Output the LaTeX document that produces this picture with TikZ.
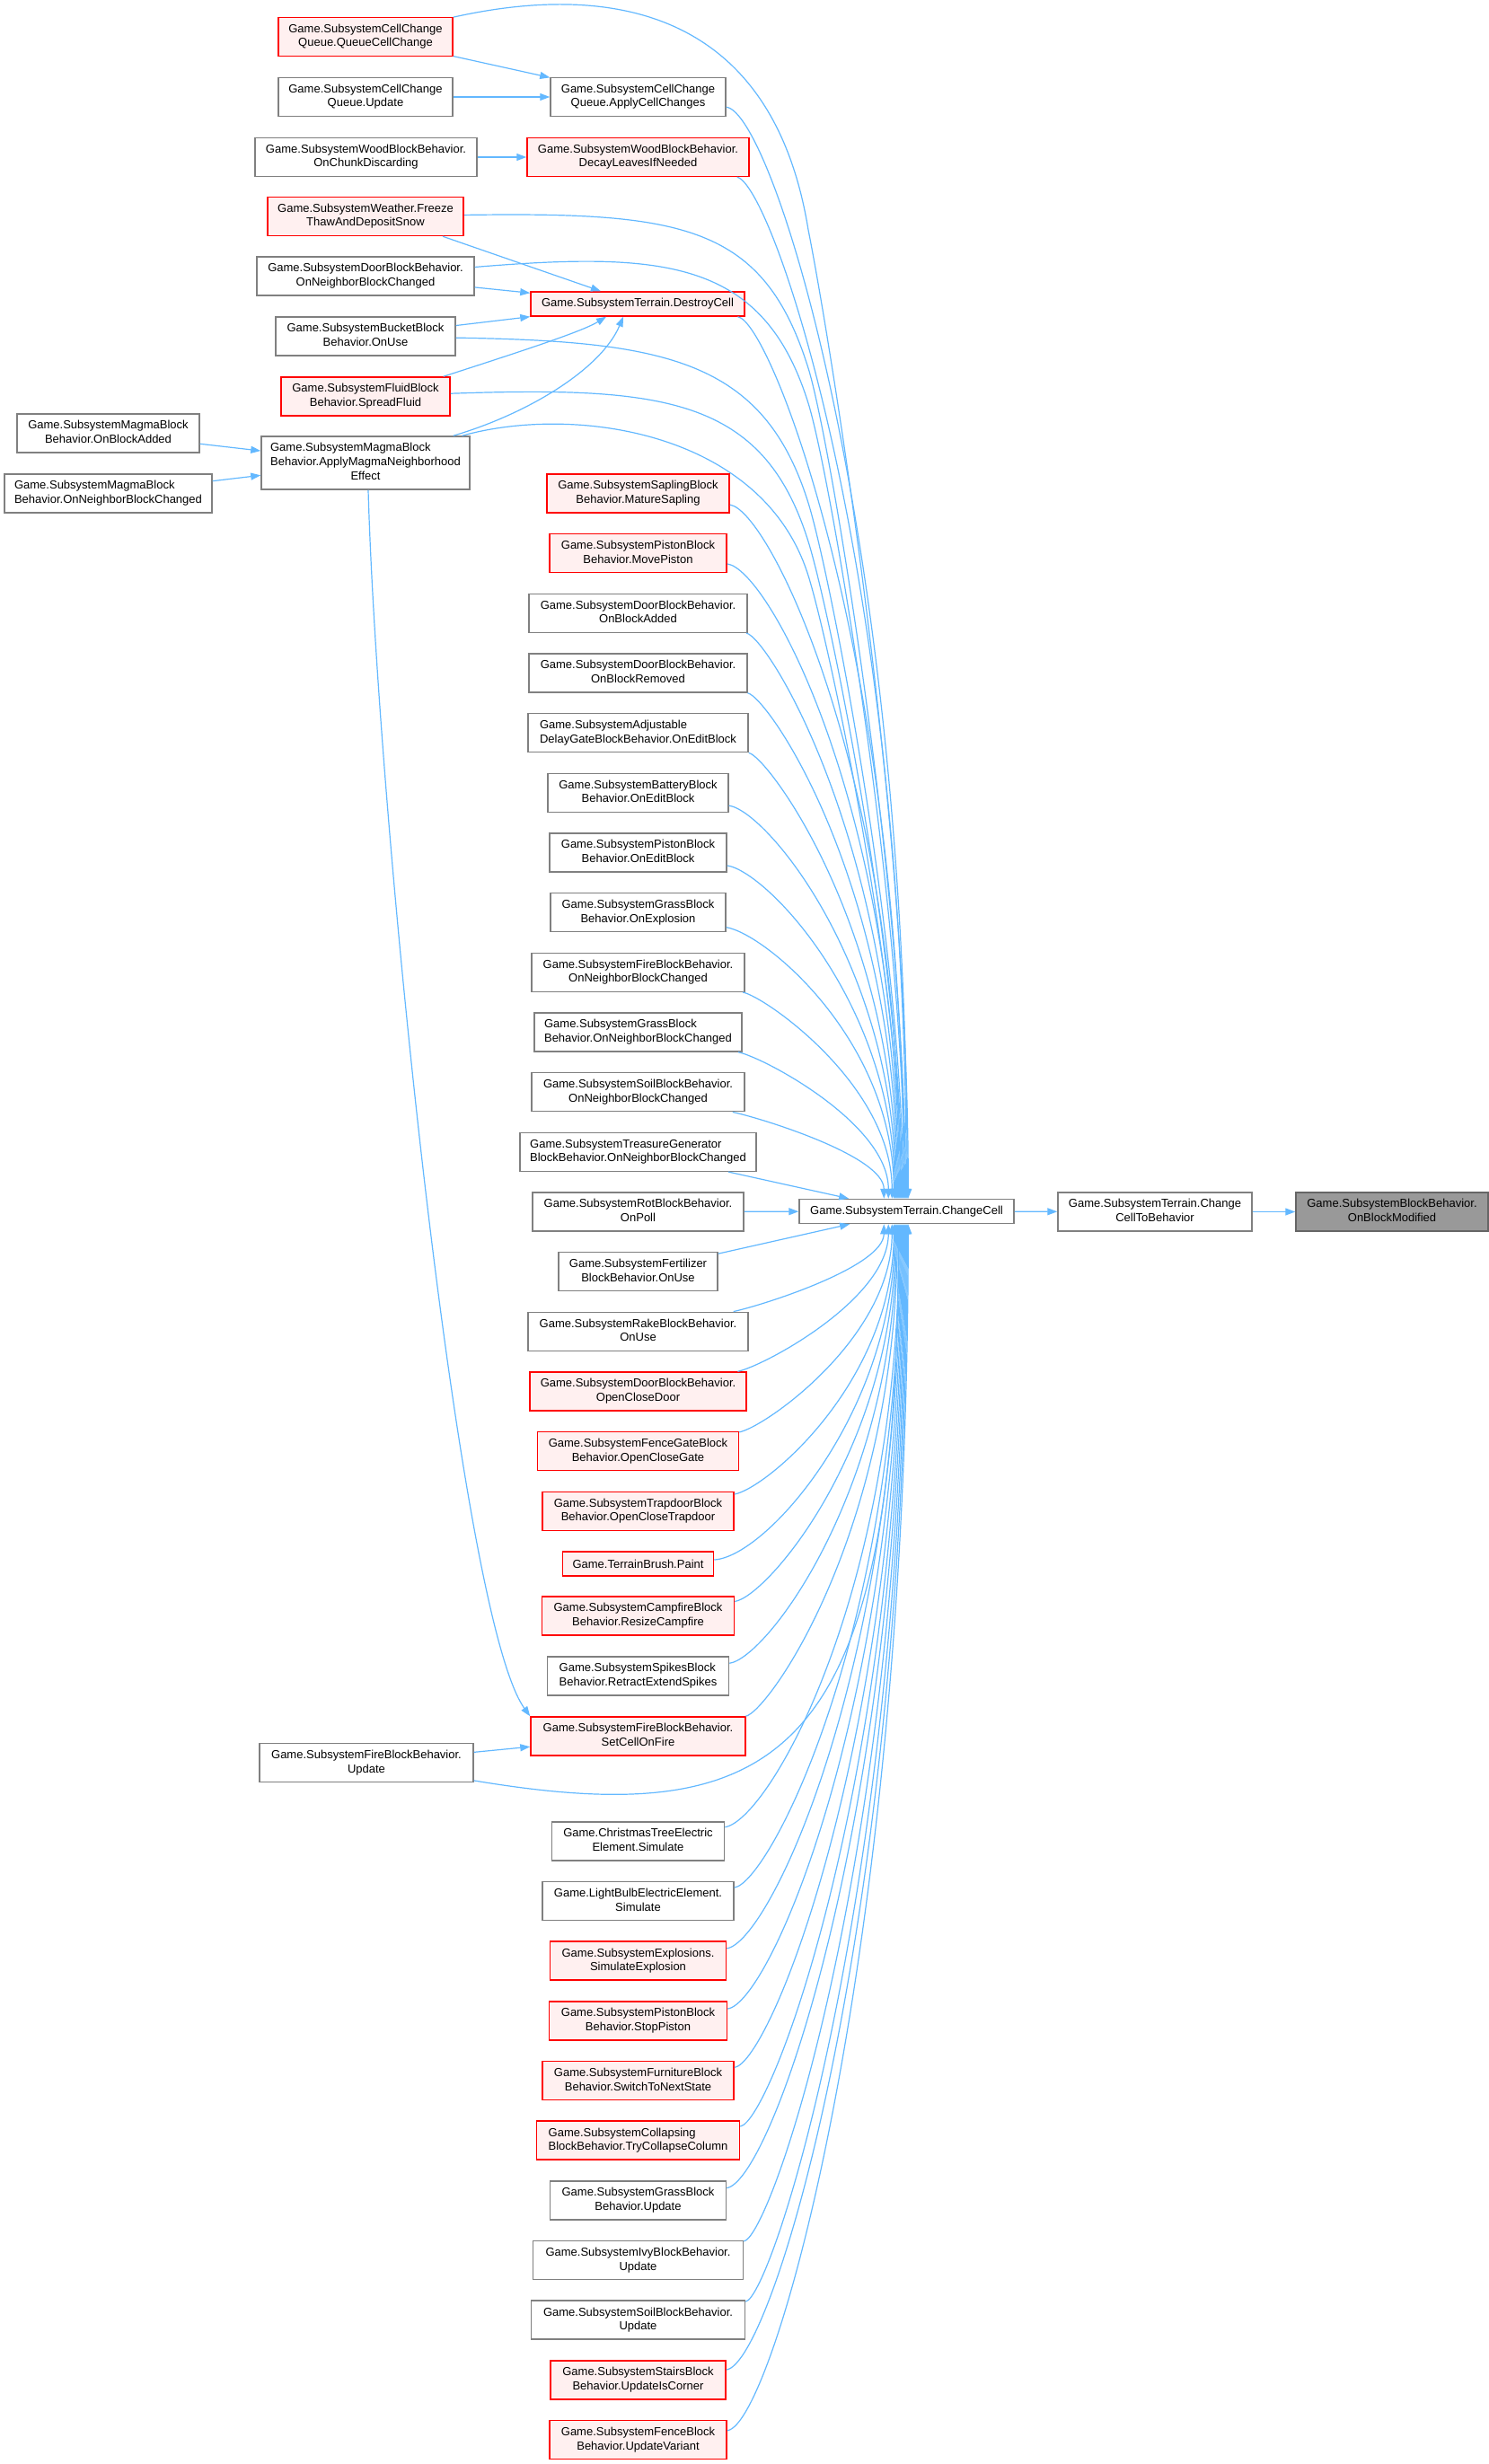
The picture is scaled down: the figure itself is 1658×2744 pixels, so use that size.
\documentclass[tikz,border=0pt]{standalone}
\usepackage{fontspec}
\setmainfont{Liberation Sans}
\usetikzlibrary{arrows.meta,calc}
\definecolor{edgeblue}{HTML}{63B8FF}
\definecolor{redfill}{HTML}{FFF0F0}
\definecolor{nodeline}{HTML}{808080}
\definecolor{rootfill}{HTML}{999999}
\definecolor{rootline}{HTML}{666666}
\newcommand\TwoL[2]{\begin{tabular}{@{}l@{}}#1\\\multicolumn{1}{@{}c@{}}{#2}\end{tabular}}
\newcommand\ThreeL[3]{\begin{tabular}{@{}l@{}}#1\\#2\\\multicolumn{1}{@{}c@{}}{#3}\end{tabular}}
% fan edge into ChangeCell: #1 source, #2 a, #3 c, #4 b, #5 x offset on chc border
\newcommand\fanT[5]{%
  \coordinate (tmpT) at ($(chc.north west)+(#5,0)$);
  \draw[link] let \p1=(#1), \p2=(tmpT) in (#1) .. controls ({\x1+#2*(\x2-\x1)},{\y1+#3*(\y2-\y1)}) and ({\x2},{\y2+#4*(\y1-\y2)}) .. (tmpT);}
\newcommand\fanB[5]{%
  \coordinate (tmpB) at ($(chc.south west)+(#5,0)$);
  \draw[link] let \p1=(#1), \p2=(tmpB) in (#1) .. controls ({\x1+#2*(\x2-\x1)},{\y1+#3*(\y2-\y1)}) and ({\x2},{\y2+#4*(\y1-\y2)}) .. (tmpB);}
\begin{document}
\begin{tikzpicture}[x=0.5pt,y=-0.5pt,
  nbox/.style={draw=nodeline, fill=white, line width=0.75pt, inner sep=0pt,
    minimum height=21.5pt, font=\fontsize{6.5pt}{7.85pt}\selectfont},
  rbox/.style={nbox, draw=red, fill=redfill},
  gbox/.style={nbox, draw=rootline, fill=rootfill},
  one/.style={minimum height=13.5pt},
  three/.style={minimum height=29.5pt},
  wd/.style={minimum width=#1*0.5pt},
  link/.style={draw=edgeblue, line width=0.6pt, -{Triangle[length=5.5pt,width=4pt]}}
]
\useasboundingbox (0,0) rectangle (1658,2744);

% column 1
\node[nbox,wd=203] (mba) at (120.5,482.5) {\TwoL{Game.SubsystemMagmaBlock}{Behavior.OnBlockAdded}};
\node[nbox,wd=231] (mbn) at (120.5,549.5) {\TwoL{Game.SubsystemMagmaBlock}{Behavior.OnNeighborBlockChanged}};

% column 2
\node[rbox,wd=194] (qcc) at (407,41) {\TwoL{Game.SubsystemCellChange}{Queue.QueueCellChange}};
\node[nbox,wd=194] (cqu) at (407,108) {\TwoL{Game.SubsystemCellChange}{Queue.Update}};
\node[nbox,wd=247] (ocd) at (407.5,175) {\TwoL{Game.SubsystemWoodBlockBehavior.}{OnChunkDiscarding}};
\node[rbox,wd=218] (wea) at (407,241) {\TwoL{Game.SubsystemWeather.Freeze}{ThawAndDepositSnow}};
\node[nbox,wd=242] (dnb) at (407,307.5) {\TwoL{Game.SubsystemDoorBlockBehavior.}{OnNeighborBlockChanged}};
\node[nbox,wd=200] (buc) at (407,374.5) {\TwoL{Game.SubsystemBucketBlock}{Behavior.OnUse}};
\node[rbox,wd=188] (flu) at (407,441.5) {\TwoL{Game.SubsystemFluidBlock}{Behavior.SpreadFluid}};
\node[nbox,three,wd=232] (amg) at (407,515.5) {\ThreeL{Game.SubsystemMagmaBlock}{Behavior.ApplyMagmaNeighborhood}{Effect}};
\node[nbox,wd=238] (fbu) at (408,1963) {\TwoL{Game.SubsystemFireBlockBehavior.}{Update}};

% column 3
\node[nbox,wd=195] (acc) at (710.5,108) {\TwoL{Game.SubsystemCellChange}{Queue.ApplyCellChanges}};
\node[rbox,wd=247] (dln) at (710.5,175) {\TwoL{Game.SubsystemWoodBlockBehavior.}{DecayLeavesIfNeeded}};
\node[rbox,one,wd=238] (dcl) at (710,338.5) {Game.SubsystemTerrain.DestroyCell};
\node[rbox,wd=203] (sap) at (710.5,549.5) {\TwoL{Game.SubsystemSaplingBlock}{Behavior.MatureSapling}};
\node[rbox,wd=197] (mvp) at (710.5,616.2) {\TwoL{Game.SubsystemPistonBlock}{Behavior.MovePiston}};
\node[nbox,wd=243] (dba) at (710.5,682.8) {\TwoL{Game.SubsystemDoorBlockBehavior.}{OnBlockAdded}};
\node[nbox,wd=243] (dbr) at (710.5,749.5) {\TwoL{Game.SubsystemDoorBlockBehavior.}{OnBlockRemoved}};
\node[nbox,wd=245] (adj) at (710.5,816.2) {\TwoL{Game.SubsystemAdjustable}{DelayGateBlockBehavior.OnEditBlock}};
\node[nbox,wd=201] (bat) at (710.5,882.8) {\TwoL{Game.SubsystemBatteryBlock}{Behavior.OnEditBlock}};
\node[nbox,wd=197] (pse) at (710.5,949.5) {\TwoL{Game.SubsystemPistonBlock}{Behavior.OnEditBlock}};
\node[nbox,wd=195] (gex) at (710.5,1016.2) {\TwoL{Game.SubsystemGrassBlock}{Behavior.OnExplosion}};
\node[nbox,wd=237] (fnb) at (710.5,1082.8) {\TwoL{Game.SubsystemFireBlockBehavior.}{OnNeighborBlockChanged}};
\node[nbox,wd=231] (gnb) at (710.5,1149.5) {\TwoL{Game.SubsystemGrassBlock}{Behavior.OnNeighborBlockChanged}};
\node[nbox,wd=237] (snb) at (710.5,1216.2) {\TwoL{Game.SubsystemSoilBlockBehavior.}{OnNeighborBlockChanged}};
\node[nbox,wd=263] (tre) at (710.5,1282.8) {\TwoL{Game.SubsystemTreasureGenerator}{BlockBehavior.OnNeighborBlockChanged}};
\node[nbox,wd=235] (rot) at (710.5,1349.5) {\TwoL{Game.SubsystemRotBlockBehavior.}{OnPoll}};
\node[nbox,wd=177] (fer) at (710.5,1416.2) {\TwoL{Game.SubsystemFertilizer}{BlockBehavior.OnUse}};
\node[nbox,wd=245] (rak) at (710.5,1482.8) {\TwoL{Game.SubsystemRakeBlockBehavior.}{OnUse}};
\node[rbox,wd=241] (ocdr) at (710.5,1549.5) {\TwoL{Game.SubsystemDoorBlockBehavior.}{OpenCloseDoor}};
\node[rbox,wd=224] (fgt) at (710.5,1616.2) {\TwoL{Game.SubsystemFenceGateBlock}{Behavior.OpenCloseGate}};
\node[rbox,wd=213] (trp) at (710.5,1682.8) {\TwoL{Game.SubsystemTrapdoorBlock}{Behavior.OpenCloseTrapdoor}};
\node[rbox,one,wd=168] (tbp) at (710.5,1741.5) {Game.TerrainBrush.Paint};
\node[rbox,wd=214] (cmp) at (710.5,1799.5) {\TwoL{Game.SubsystemCampfireBlock}{Behavior.ResizeCampfire}};
\node[nbox,wd=202] (spk) at (710.5,1866.5) {\TwoL{Game.SubsystemSpikesBlock}{Behavior.RetractExtendSpikes}};
\node[rbox,wd=239] (sof) at (710.5,1933.5) {\TwoL{Game.SubsystemFireBlockBehavior.}{SetCellOnFire}};
\node[nbox,wd=192] (chr) at (710.5,2050.3) {\TwoL{Game.ChristmasTreeElectric}{Element.Simulate}};
\node[nbox,wd=213] (lbe) at (710.5,2117) {\TwoL{Game.LightBulbElectricElement.}{Simulate}};
\node[rbox,wd=196] (exp) at (710.5,2183.7) {\TwoL{Game.SubsystemExplosions.}{SimulateExplosion}};
\node[rbox,wd=198] (stp) at (710.5,2250.3) {\TwoL{Game.SubsystemPistonBlock}{Behavior.StopPiston}};
\node[rbox,wd=213] (fur) at (710.5,2317) {\TwoL{Game.SubsystemFurnitureBlock}{Behavior.SwitchToNextState}};
\node[rbox,wd=226] (col) at (710.5,2383.7) {\TwoL{Game.SubsystemCollapsing}{BlockBehavior.TryCollapseColumn}};
\node[nbox,wd=196] (gup) at (710.5,2450.3) {\TwoL{Game.SubsystemGrassBlock}{Behavior.Update}};
\node[nbox,wd=234] (ivy) at (710.5,2517) {\TwoL{Game.SubsystemIvyBlockBehavior.}{Update}};
\node[nbox,wd=238] (sup) at (710.5,2583.7) {\TwoL{Game.SubsystemSoilBlockBehavior.}{Update}};
\node[rbox,wd=195] (sta) at (710.5,2650.3) {\TwoL{Game.SubsystemStairsBlock}{Behavior.UpdateIsCorner}};
\node[rbox,wd=197] (fen) at (710.5,2717) {\TwoL{Game.SubsystemFenceBlock}{Behavior.UpdateVariant}};

% columns 4-6
\node[nbox,one,wd=239] (chc) at (1009.5,1349) {Game.SubsystemTerrain.ChangeCell};
\node[nbox,wd=216] (ctb) at (1286,1349.5) {\TwoL{Game.SubsystemTerrain.Change}{CellToBehavior}};
\node[gbox,wd=214] (obm) at (1550,1349.5) {\TwoL{Game.SubsystemBlockBehavior.}{OnBlockModified}};

% short edges
\draw[link] (qcc) -- (acc);
\draw[link] (cqu) -- (acc);
\draw[link] (ocd) -- (dln);
\draw[link] ($(wea.south)+(86,0)$) -- (dcl);
\draw[link] (dnb) -- (dcl);
\draw[link] (buc) -- (dcl);
\draw[link] ($(flu.north east)+(-8,0)$) .. controls (600,385) and (650,368) .. ($(dcl.south)+(-35,0)$);
\draw[link] ($(amg.north east)+(-19,0)$) .. controls (590,460) and (670,410) .. ($(dcl.south)+(-16,0)$);
\draw[link] (mba) -- (amg);
\draw[link] (mbn) -- (amg);
\draw[link] ($(amg.south)+(3,0)$) .. controls (420,900) and (510,1800) .. (sof.north west);
\draw[link] (fbu) -- (sof);
\draw[link] (tre) -- (chc);
\draw[link] (rot) -- (chc);
\draw[link] (fer) -- (chc);
\draw[link] (chc) -- (ctb);
\draw[link] (ctb) -- (obm);

% long edges from column 2
\draw[link] (qcc) .. controls (680,-20) and (860,10) .. (900,256) .. controls (920,356) and (1012,900) .. ($(chc.north west)+(122,0)$);
\draw[link] (wea) .. controls (760,236) and (850,250) .. (900,410) .. controls (925,490) and (1009,1000) .. ($(chc.north west)+(119,0)$);
\draw[link] (dnb) .. controls (740,280) and (850,289) .. (900,449) .. controls (925,529) and (1008,1020) .. ($(chc.north west)+(118,0)$);
\draw[link] (buc) .. controls (740,380) and (850,400) .. (900,560) .. controls (925,640) and (1006,1060) .. ($(chc.north west)+(116,0)$);
\draw[link] (flu) .. controls (740,430) and (850,443) .. (900,603) .. controls (925,683) and (1005,1080) .. ($(chc.north west)+(115,0)$);
\draw[link] (amg) .. controls (640,450) and (850,481) .. (900,641) .. controls (925,721) and (1004,1100) .. ($(chc.north west)+(114,0)$);
\draw[link] (fbu) .. controls (870,2040) and (1001,1960) .. ($(chc.south west)+(111,0)$);

% fan from column 3, above
\fanT{acc}{0.5}{0.014}{0.6}{121}
\fanT{dln}{0.5}{0.026}{0.6}{120}
\fanT{dcl}{0.5}{0.019}{0.6}{117}
\fanT{sap}{0.5}{0.023}{0.6}{113}
\fanT{mvp}{0.5}{0.024}{0.6}{112}
\fanT{dba}{0.5}{0.041}{0.6}{111}
\fanT{dbr}{0.5}{0.045}{0.6}{110}
\fanT{adj}{0.5}{0.05}{0.58}{109}
\fanT{bat}{0.5}{0.045}{0.57}{108}
\fanT{pse}{0.5}{0.054}{0.56}{107}
\fanT{gex}{0.5}{0.075}{0.55}{106}
\fanT{fnb}{0.5}{0.107}{0.5}{104}
\fanT{gnb}{0.5}{0.15}{0.45}{100}
\fanT{snb}{0.5}{0.244}{0.4}{95}
% fan from column 3, below
\fanB{rak}{0.5}{0.24}{0.4}{95}
\fanB{ocdr}{0.5}{0.15}{0.45}{100}
\fanB{fgt}{0.5}{0.106}{0.5}{104}
\fanB{trp}{0.5}{0.078}{0.55}{106}
\fanB{tbp}{0.5}{0.02}{0.55}{107}
\fanB{cmp}{0.5}{0.049}{0.57}{108}
\fanB{spk}{0.5}{0.04}{0.58}{109}
\fanB{sof}{0.5}{0.047}{0.6}{110}
\fanB{chr}{0.5}{0.034}{0.6}{112}
\fanB{lbe}{0.5}{0.027}{0.6}{113}
\fanB{exp}{0.5}{0.025}{0.6}{114}
\fanB{stp}{0.5}{0.022}{0.6}{115}
\fanB{fur}{0.5}{0.021}{0.6}{116}
\fanB{col}{0.5}{0.02}{0.6}{117}
\fanB{gup}{0.5}{0.019}{0.6}{118}
\fanB{ivy}{0.5}{0.023}{0.6}{119}
\fanB{sup}{0.5}{0.021}{0.6}{120}
\fanB{sta}{0.5}{0.0134}{0.6}{121}
\fanB{fen}{0.5}{0.0115}{0.6}{122}
\end{tikzpicture}
\end{document}
